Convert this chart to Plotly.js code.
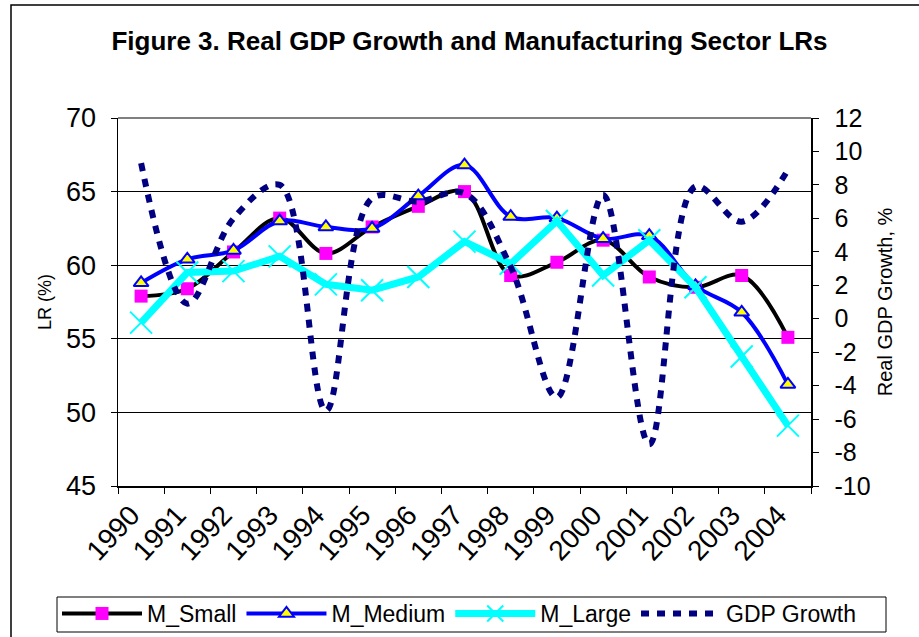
<!DOCTYPE html>
<html>
<head>
<meta charset="utf-8">
<script src="https://cdn.plot.ly/plotly-3.0.1.min.js"></script>
<style>
  html, body { margin: 0; padding: 0; background: #fff; overflow: hidden; }
  #chart { width: 919px; height: 637px; }
</style>
</head>
<body>
<div id="chart"></div>
<script>
// ---- data ----
var years = ['1990','1991','1992','1993','1994','1995','1996','1997','1998','1999','2000','2001','2002','2003','2004'];
var mSmall  = [57.9, 58.4, 60.9, 63.2, 60.8, 62.6, 64.0, 65.0, 59.3, 60.2, 61.7, 59.2, 58.5, 59.3, 55.1];
var mMedium = [58.8, 60.4, 61.0, 63.0, 62.6, 62.5, 64.7, 66.8, 63.3, 63.2, 61.8, 62.0, 58.6, 56.8, 51.9];
var mLarge  = [56.1, 59.5, 59.6, 60.6, 58.7, 58.3, 59.2, 61.6, 60.1, 63.0, 59.3, 61.7, 58.5, 53.8, 49.1];
var gdpGrowth = [9.3, 0.9, 6.0, 8.0, -5.5, 7.2, 7.0, 7.5, 3.1, -4.7, 7.4, -7.5, 7.9, 5.8, 8.9];
var seriesNames = ['M_Small', 'M_Medium', 'M_Large', 'GDP Growth'];
// right-axis tick values and labels (plain hyphen minus, as in the reference)
var gdpTickVals = [-10, -8, -6, -4, -2, 0, 2, 4, 6, 8, 10, 12];
var gdpTickText = ['-10', '-8', '-6', '-4', '-2', '0', '2', '4', '6', '8', '10', '12'];

var FONT = 'Liberation Sans, Arial, Helvetica, sans-serif';
var W = 919, H = 637;
var M = {l: 118, r: 108, t: 118, b: 151, autoexpand: false};
var PW = W - M.l - M.r, PH = H - M.t - M.b;
function px(xp) { return (xp - M.l) / PW; }
function py(yp) { return (H - M.b - yp) / PH; }

var traces = [
  {
    x: years, y: mSmall, name: seriesNames[0], type: 'scatter', mode: 'lines+markers',
    line: {color: '#000000', width: 4, shape: 'spline', smoothing: 1},
    marker: {symbol: 'square', size: 13, color: '#FF00FF', line: {width: 0}}
  },
  {
    x: years, y: mMedium, name: seriesNames[1], type: 'scatter', mode: 'lines+markers',
    line: {color: '#0000FF', width: 4, shape: 'spline', smoothing: 1},
    marker: {symbol: 'triangle-up', size: 13, color: '#FFFF00', line: {width: 2, color: '#0000FF'}}
  },
  {
    x: years, y: mLarge, name: seriesNames[2], type: 'scatter', mode: 'lines+markers',
    line: {color: '#00FFFF', width: 7},
    marker: {symbol: 'x-thin-open', size: 22, color: '#00FFFF', line: {width: 2, color: '#00FFFF'}}
  },
  {
    x: years, y: gdpGrowth, name: seriesNames[3], type: 'scatter', mode: 'lines', yaxis: 'y2',
    line: {color: '#000080', width: 6, dash: '8px,8px', shape: 'spline', smoothing: 1}
  }
];

var layout = {
  width: W, height: H,
  margin: M,
  paper_bgcolor: '#ffffff', plot_bgcolor: '#ffffff',
  font: {family: FONT, color: '#000000'},
  showlegend: true,
  title: {
    text: 'Figure 3. Real GDP Growth and Manufacturing Sector LRs',
    font: {family: FONT, size: 26, color: '#000000', weight: 'bold'},
    xref: 'container', x: 469.5 / W, xanchor: 'center',
    yref: 'container', y: 1 - 41 / H, yanchor: 'middle'
  },
  xaxis: {
    type: 'category', range: [-0.5, 14.5], tickson: 'boundaries', automargin: false,
    ticks: 'outside', ticklen: 6, tickwidth: 1, tickcolor: '#000000',
    ticklabelstandoff: 0, ticklabelshift: -10,
    showline: true, linecolor: '#000000', linewidth: 1.5,
    showgrid: false, zeroline: false,
    tickangle: -47, tickfont: {family: FONT, size: 28, color: '#000000'},
    fixedrange: true
  },
  yaxis: {
    range: [45, 70], dtick: 5, tick0: 45, automargin: false,
    ticks: 'outside', ticklen: 6, tickwidth: 1, tickcolor: '#000000',
    ticklabelstandoff: 9,
    showline: true, linecolor: '#000000', linewidth: 1.5,
    showgrid: true, gridcolor: '#000000', gridwidth: 1, zeroline: false,
    tickfont: {family: FONT, size: 27, color: '#000000'},
    title: {text: 'LR (%)', font: {family: FONT, size: 18, color: '#000000'}, standoff: 10},
    fixedrange: true
  },
  yaxis2: {
    overlaying: 'y', side: 'right', range: [-10, 12], automargin: false,
    tickmode: 'array', tickvals: gdpTickVals, ticktext: gdpTickText,
    ticks: 'outside', ticklen: 6, tickwidth: 1, tickcolor: '#000000',
    ticklabelstandoff: 11,
    showline: true, linecolor: '#000000', linewidth: 1.5,
    showgrid: false, zeroline: false,
    tickfont: {family: FONT, size: 25, color: '#000000'},
    title: {text: 'Real GDP Growth, %', font: {family: FONT, size: 20, color: '#000000'}, standoff: 8},
    fixedrange: true
  },
  legend: {
    orientation: 'h',
    x: px(57), xanchor: 'left',
    y: py(592), yanchor: 'top',
    bgcolor: 'rgba(0,0,0,0)', borderwidth: 0,
    font: {family: FONT, size: 23, color: '#000000'},
    itemwidth: 80, tracegroupgap: 0
  },
  shapes: [
    // gray top border of the plot area
    {type: 'line', xref: 'paper', yref: 'paper', x0: 0, x1: 1, y0: 1, y1: 1,
     line: {color: '#808080', width: 2}},
    // outer chart frame
    {type: 'rect', xref: 'paper', yref: 'paper',
     x0: px(11), x1: px(930), y0: py(5), y1: py(650),
     line: {color: '#000000', width: 1.5}, fillcolor: 'rgba(0,0,0,0)'},
    // legend box
    {type: 'rect', xref: 'paper', yref: 'paper',
     x0: px(57), x1: px(886), y0: py(597), y1: py(632),
     line: {color: '#000000', width: 1}, fillcolor: '#ffffff', layer: 'below'}
  ]
};

Plotly.newPlot('chart', traces, layout, {staticPlot: true, displayModeBar: false});
</script>
</body>
</html>
